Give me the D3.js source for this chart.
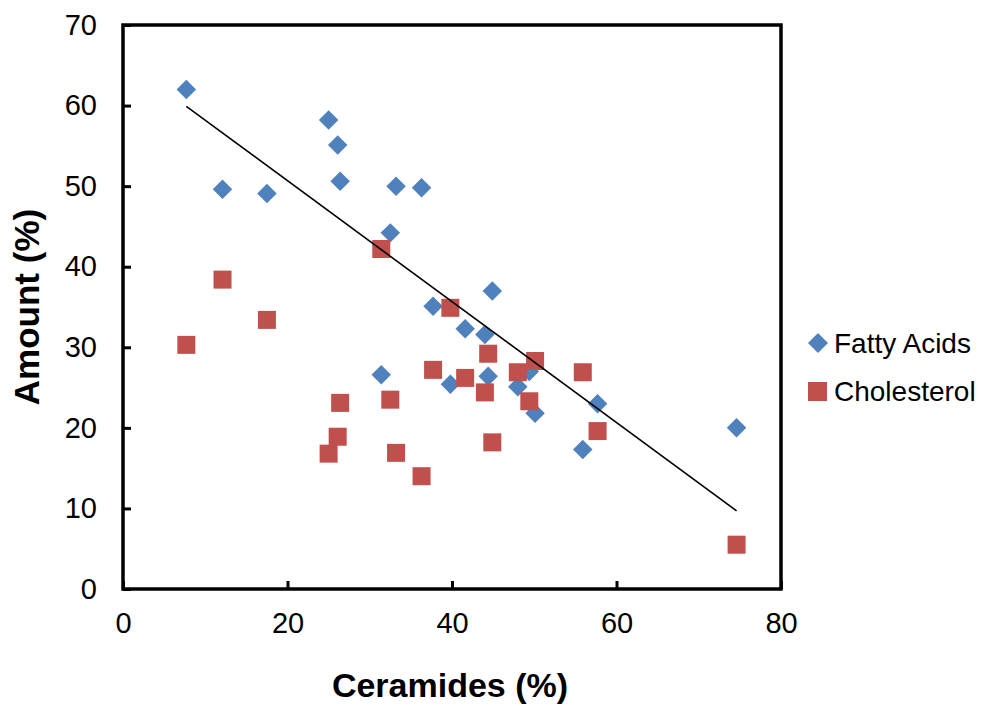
<!DOCTYPE html>
<html>
<head>
<meta charset="utf-8">
<script src="https://cdn.jsdelivr.net/npm/d3@7"></script>
<style>
  body { margin: 0; background: #fff; }
  text { font-family: "Liberation Sans", Arial, sans-serif; }
</style>
</head>
<body>
<svg id="chart" width="987" height="706"></svg>
<script>
// Data
const ceramides   = [7.7, 12.1, 17.5, 25.0, 26.1, 26.4, 33.2, 36.3, 32.5, 37.7, 44.9, 41.6, 44.0, 31.4, 39.8, 44.4, 48.0, 49.4, 50.1, 57.7, 55.9, 74.6];
const fattyAcids  = [62.0, 49.6, 49.1, 58.2, 55.1, 50.6, 50.0, 49.8, 44.2, 35.1, 37.0, 32.3, 31.6, 26.6, 25.4, 26.4, 25.1, 27.0, 21.8, 23.0, 17.3, 20.0];
const cholesterol = [30.3, 38.4, 33.4, 16.8, 18.9, 23.1, 16.9, 14.0, 23.5, 27.2, 18.2, 26.2, 24.4, 42.2, 34.9, 29.2, 26.9, 23.3, 28.3, 19.6, 26.9, 5.5];
const trendX = [7.7, 74.6];
const trendY = [59.9, 9.7];
const xTicks = [0, 20, 40, 60, 80];
const yTicks = [0, 10, 20, 30, 40, 50, 60, 70];
const seriesNames = ["Fatty Acids", "Cholesterol"];
const seriesColors = ["#4F81BD", "#C0504D"];

(function () {
const svg = d3.select("#chart");
const mLeft = 123, mRight = 781, mTop = 25, mBottom = 589;

const x = d3.scaleLinear().domain([0, 80]).range([mLeft, mRight]);
const y = d3.scaleLinear().domain([0, 70]).range([mBottom, mTop]);

// axes with inward ticks
const xAxis = d3.axisBottom(x).tickValues(xTicks).tickSizeInner(-8).tickSizeOuter(0).tickPadding(23);
const yAxis = d3.axisLeft(y).tickValues(yTicks).tickSizeInner(-8).tickSizeOuter(0).tickPadding(26);

const gx = svg.append("g").attr("transform", `translate(0,${mBottom})`).call(xAxis);
const gy = svg.append("g").attr("transform", `translate(${mLeft},0)`).call(yAxis);
[gx, gy].forEach(g => {
  g.select(".domain").remove();
  g.selectAll(".tick line").attr("stroke", "#000").attr("stroke-width", 3);
  g.selectAll(".tick text").attr("font-size", 29).attr("fill", "#000")
    .style("font-family", "'Liberation Sans', Arial, sans-serif");
});

// Plot border box
svg.append("rect")
  .attr("x", mLeft).attr("y", mTop)
  .attr("width", mRight - mLeft).attr("height", mBottom - mTop)
  .attr("fill", "none").attr("stroke", "#000").attr("stroke-width", 3.5);

// Fatty acids (diamonds)
const diamond = d3.symbol().type(d3.symbolSquare).size(190);
svg.append("g").selectAll("path")
  .data(ceramides.map((c, i) => [c, fattyAcids[i]]))
  .join("path")
  .attr("d", diamond)
  .attr("transform", d => `translate(${x(d[0])},${y(d[1])}) rotate(45)`)
  .attr("fill", seriesColors[0]);

// Cholesterol (squares)
const sq = 18;
svg.append("g").selectAll("rect")
  .data(ceramides.map((c, i) => [c, cholesterol[i]]))
  .join("rect")
  .attr("x", d => x(d[0]) - sq / 2)
  .attr("y", d => y(d[1]) - sq / 2)
  .attr("width", sq).attr("height", sq)
  .attr("fill", seriesColors[1]);

// Trendline on top of markers
svg.append("line")
  .attr("x1", x(trendX[0])).attr("y1", y(trendY[0]))
  .attr("x2", x(trendX[1])).attr("y2", y(trendY[1]))
  .attr("stroke", "#000").attr("stroke-width", 1.6);

// Axis titles
svg.append("text")
  .attr("x", 450).attr("y", 697)
  .attr("text-anchor", "middle")
  .attr("font-size", 34).attr("font-weight", "bold")
  .text("Ceramides (%)");

svg.append("text")
  .attr("transform", `translate(39,${(mTop + mBottom) / 2}) rotate(-90)`)
  .attr("text-anchor", "middle")
  .attr("font-size", 35).attr("font-weight", "bold")
  .text("Amount (%)");

// Legend
const lg = svg.append("g");
lg.append("path")
  .attr("d", d3.symbol().type(d3.symbolSquare).size(200))
  .attr("transform", "translate(818,343) rotate(45)")
  .attr("fill", seriesColors[0]);
lg.append("rect")
  .attr("x", 808).attr("y", 382).attr("width", 19).attr("height", 19)
  .attr("fill", seriesColors[1]);
lg.append("text").attr("x", 834).attr("y", 353).attr("font-size", 28).text(seriesNames[0]);
lg.append("text").attr("x", 834).attr("y", 401).attr("font-size", 28).text(seriesNames[1]);
})();
</script>
</body>
</html>
